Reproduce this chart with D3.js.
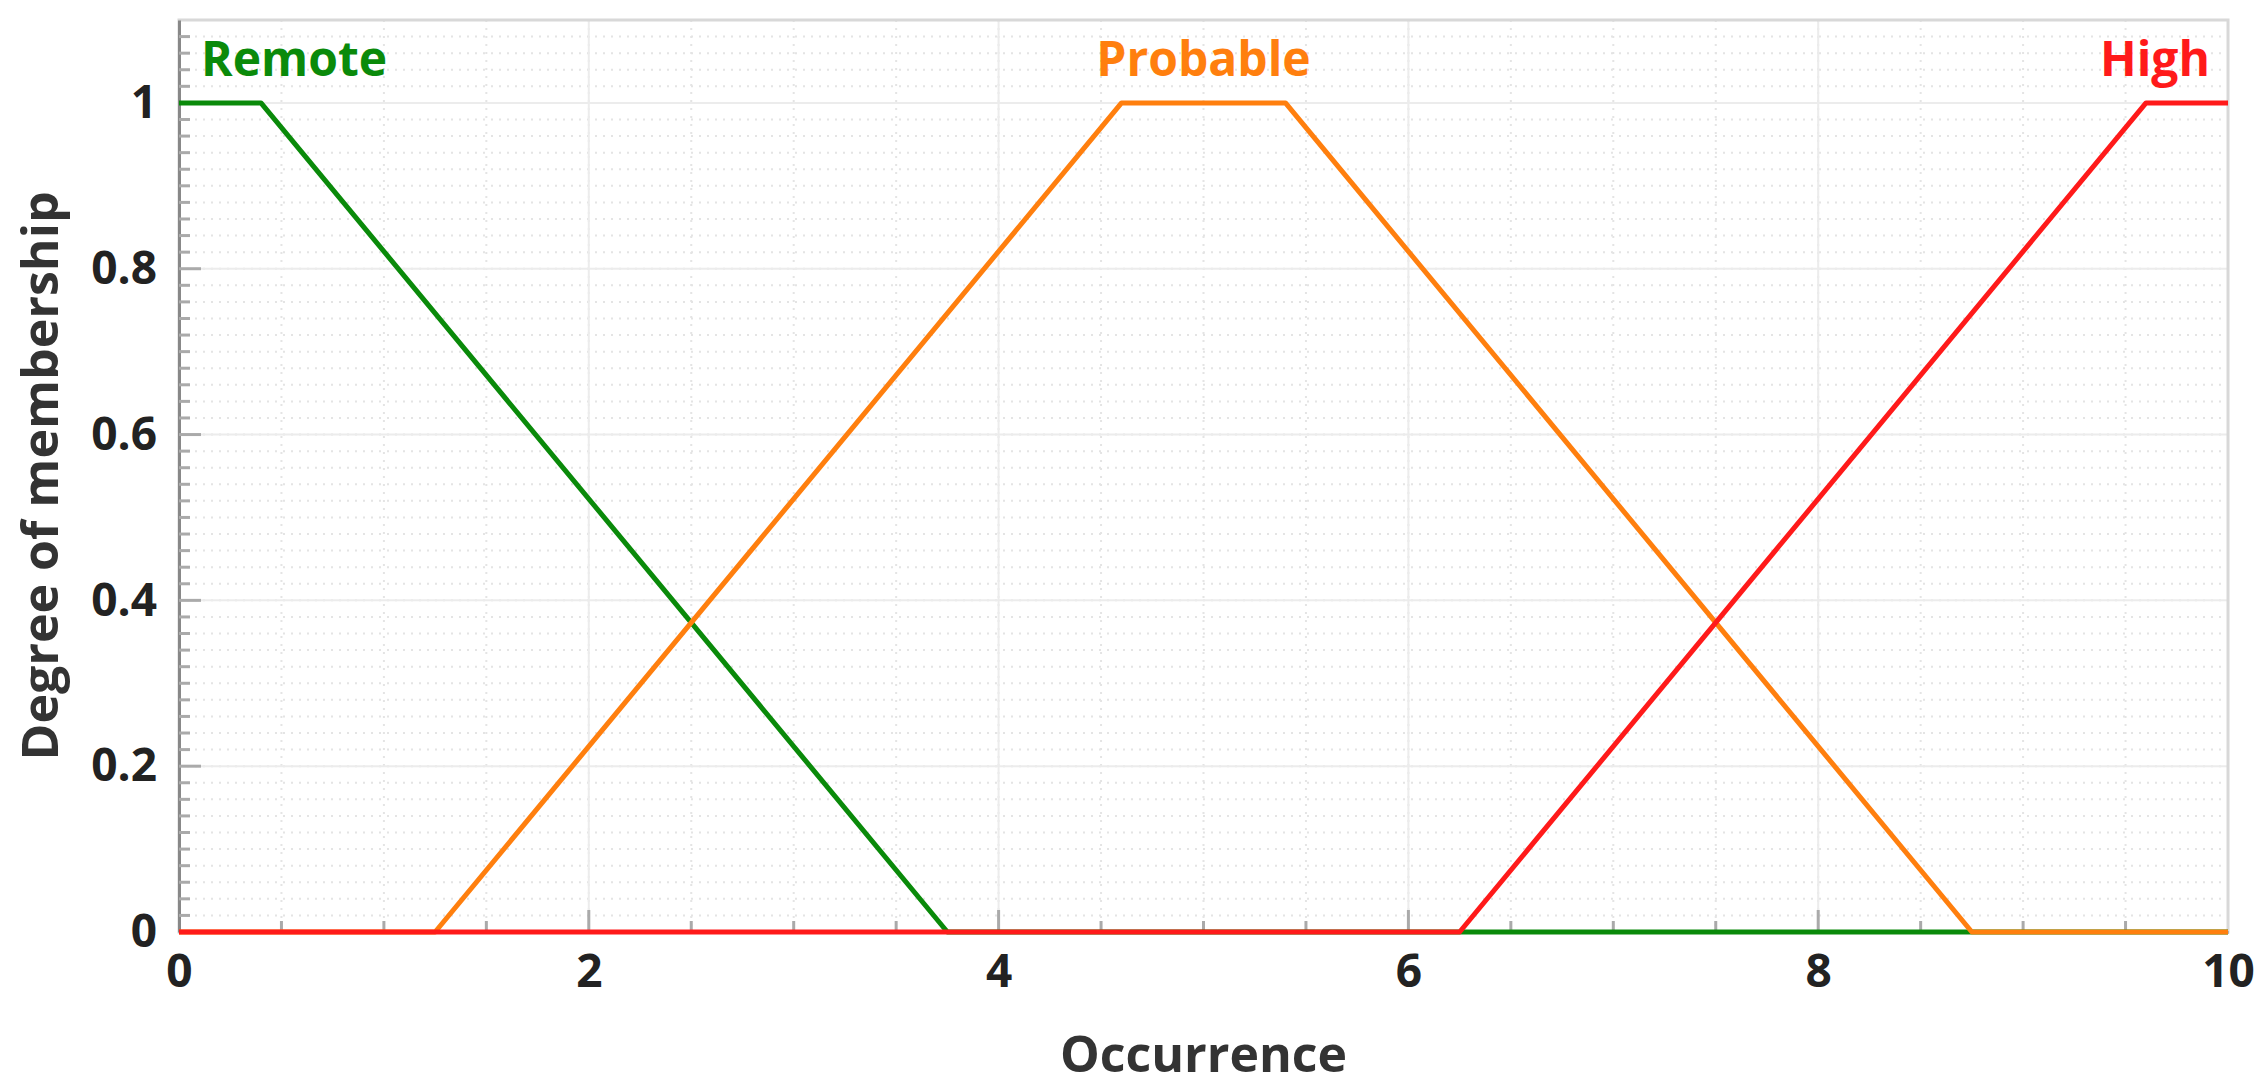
<!DOCTYPE html>
<html><head><meta charset="utf-8">
<script src="https://cdn.jsdelivr.net/npm/d3@7"></script>
<style>body{margin:0;background:#fff}text{font-family:"Open Sans",sans-serif;font-weight:bold}</style>
</head><body><div id="chart"></div>
<script>
// membership functions (x, degree)
const remote = [[0,1],[0.4,1],[3.75,0],[10,0]];
const probable = [[0,0],[1.25,0],[4.6,1],[5.4,1],[8.75,0],[10,0]];
const high = [[0,0],[6.25,0],[9.6,1],[10,1]];
const seriesNames = ["Remote","Probable","High"];
const xTicks = [0,2,4,6,8,10];
const yTicks = [0,0.2,0.4,0.6,0.8,1];

const W = 2260, H = 1092;
const margin = {top: 20, left: 179, right: 32, bottom: 160};
const svg = d3.select("#chart").append("svg").attr("width", W).attr("height", H);
const g = svg.append("g").attr("transform", `translate(${margin.left},${margin.top})`);
const cw = W - margin.left - margin.right, ch = H - margin.top - margin.bottom;

const x = d3.scaleLinear().domain([0,10]).range([0,cw]);
const y = d3.scaleLinear().domain([0,1.1]).range([ch,0]);

// minor grid
g.selectAll(".vmin").data(d3.range(0.5,10,0.5)).join("line")
  .attr("x1",d=>x(d)).attr("x2",d=>x(d)).attr("y1",0).attr("y2",ch)
  .attr("stroke","#e4e4e4").attr("stroke-width",2).attr("stroke-dasharray","2,6");
g.selectAll(".hmin").data(d3.range(0.02,1.1,0.02)).join("line")
  .attr("x1",0).attr("x2",cw).attr("y1",d=>y(d)).attr("y2",d=>y(d))
  .attr("stroke","#e4e4e4").attr("stroke-width",2).attr("stroke-dasharray","2,6");
// major grid
g.selectAll(".vmaj").data(xTicks).join("line")
  .attr("x1",d=>x(d)).attr("x2",d=>x(d)).attr("y1",0).attr("y2",ch)
  .attr("stroke","#ececec").attr("stroke-width",2);
g.selectAll(".hmaj").data(yTicks).join("line")
  .attr("x1",0).attr("x2",cw).attr("y1",d=>y(d)).attr("y2",d=>y(d))
  .attr("stroke","#ececec").attr("stroke-width",2);

// frame
g.append("rect").attr("width",cw).attr("height",ch).attr("fill","none").attr("stroke","#d8d8d8").attr("stroke-width",3);

// axes with inner ticks
const yAx = g.append("g").call(d3.axisLeft(y).tickValues(yTicks).tickSize(0).tickPadding(22).tickFormat(d=>d===1||d===0?d:d3.format(".1f")(d)));
const xAx = g.append("g").attr("transform",`translate(0,${ch})`)
  .call(d3.axisBottom(x).tickValues(xTicks).tickSize(0).tickPadding(22));
[yAx,xAx].forEach(a=>{a.select(".domain").attr("stroke","#888").attr("stroke-width",3);
  a.selectAll("text").attr("font-size",46).attr("fill","#222");});
g.selectAll(".ymt").data(d3.range(0.02,1.1,0.02)).join("line")
  .attr("x1",0).attr("x2",d=>Math.abs(d*5-Math.round(d*5))<1e-6?22:11).attr("y1",d=>y(d)).attr("y2",d=>y(d))
  .attr("stroke","#aaa").attr("stroke-width",3);
g.selectAll(".xmt").data(d3.range(0.5,10,0.5)).join("line")
  .attr("x1",d=>x(d)).attr("x2",d=>x(d)).attr("y1",ch).attr("y2",d=>ch-(d%2===0?22:11))
  .attr("stroke","#aaa").attr("stroke-width",3);

// curves
const line = d3.line().x(d=>x(d[0])).y(d=>y(d[1]));
const colors = ["#0a8a0a","#ff7f0e","#ff1a1a"];
[remote, probable, high].forEach((s,i)=>{
  g.append("path").datum(s).attr("d",line).attr("fill","none")
    .attr("stroke",colors[i]).attr("stroke-width",5).attr("stroke-linejoin","round");
});

// labels
g.append("text").attr("x",22).attr("y",56).attr("font-size",48).attr("fill",colors[0]).text(seriesNames[0]);
g.append("text").attr("x",x(5)).attr("y",56).attr("text-anchor","middle").attr("font-size",48).attr("fill",colors[1]).text(seriesNames[1]);
g.append("text").attr("x",cw-18).attr("y",56).attr("text-anchor","end").attr("font-size",48).attr("fill",colors[2]).text(seriesNames[2]);

// axis titles
svg.append("text").attr("x",margin.left+cw/2).attr("y",1072).attr("text-anchor","middle")
  .attr("font-size",50).attr("fill","#333").text("Occurrence");
svg.append("text").attr("transform",`translate(58,${margin.top+ch/2}) rotate(-90)`).attr("text-anchor","middle")
  .attr("font-size",50).attr("fill","#333").text("Degree of membership");
</script></body></html>
